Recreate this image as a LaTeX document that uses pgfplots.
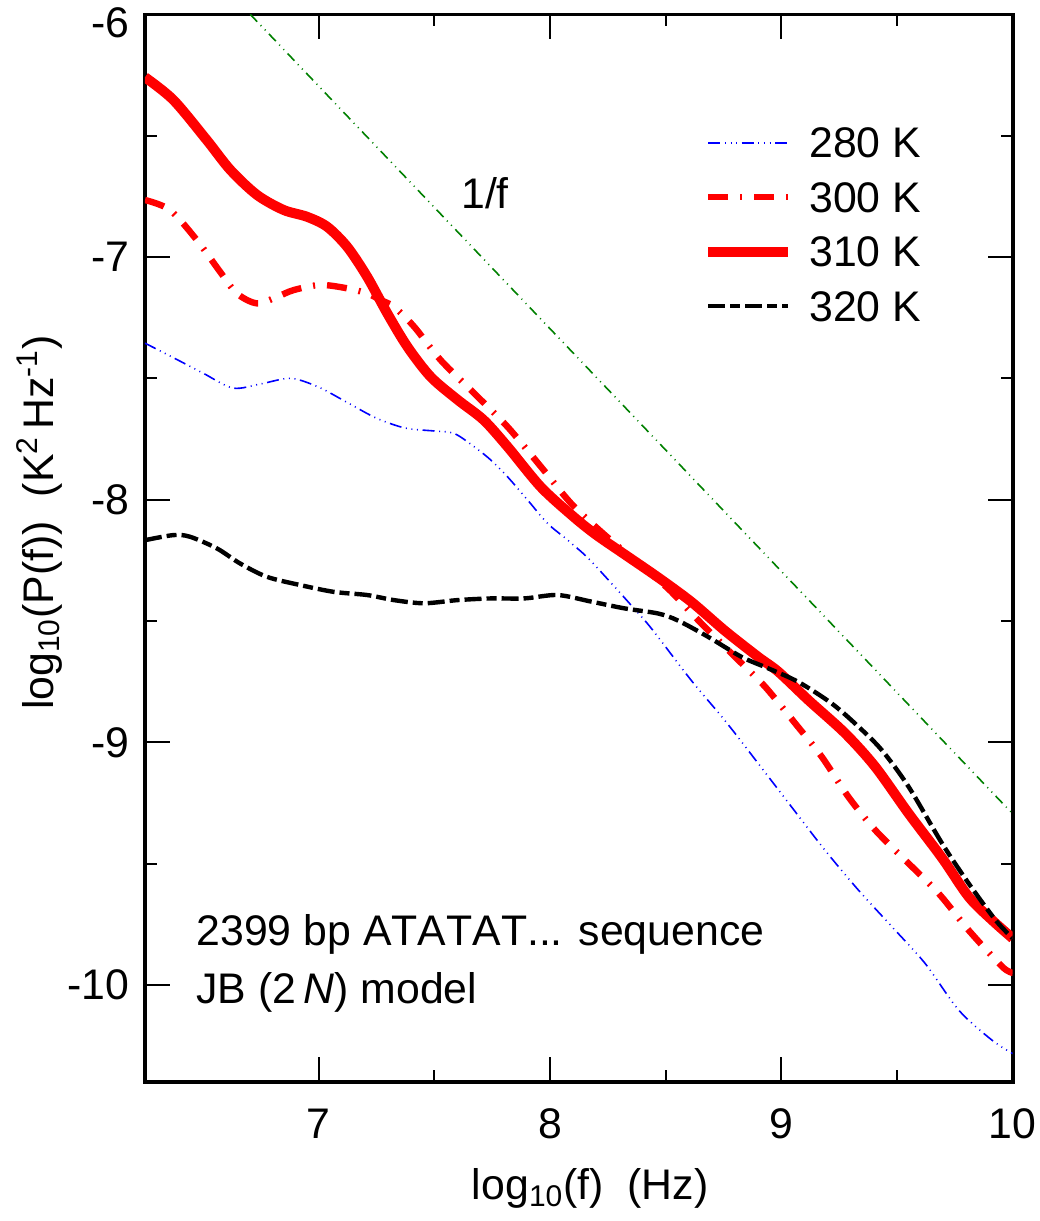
\documentclass[border=0pt]{standalone}
\usepackage{pgfplots}
\pgfplotsset{compat=1.18}
\usepackage{fontspec}
\setmainfont{Liberation Sans}[Kerning=Off]
\definecolor{dgreen}{RGB}{0,128,0}

\begin{document}
\fontsize{21.4pt}{25pt}\selectfont
\begin{tikzpicture}
\begin{axis}[
  scale only axis, width=433.85pt, height=533.8pt,
  xmin=6.25, xmax=10, ymin=-10.4, ymax=-6,
  xtick={7,8,9,10}, ytick={-10,-9,-8,-7,-6},
  yticklabels={-10,-9,-8,-7,\raisebox{-4pt}[\height][0pt]{-6}},
  minor tick num=1,
  tick align=inside,
  major tick length=12.5pt, minor tick length=6pt,
  every tick/.style={black, line width=1pt},
  axis line style={line width=1.8pt},
  /pgf/number format/assume math mode=true,
  xticklabel style={yshift=-6pt},
  yticklabel style={xshift=-0.5pt},
  xlabel={log\textsubscript{10}(f)\ \ (Hz)},
  ylabel={log\textsubscript{10}(P(f))\ \ (K\textsuperscript{2}\,Hz\textsuperscript{-1})},
  xlabel style={at={(axis description cs:0.513,-0.1105)}, anchor=base},
  ylabel style={at={(axis description cs:-0.106,0.524)}, anchor=base},
  legend style={draw=none, fill=none, at={(rel axis cs:0.643,0.8942)}, anchor=north west,
    inner sep=0pt, row sep=12.25pt, column sep=8pt,
    nodes={inner sep=0pt, text height=15pt, text depth=0pt}},
  legend cell align=left,
  legend image code/.code={\draw[#1] (0pt,0pt) -- (40pt,0pt);},
]
% 1/f reference line
\addplot[dgreen, line width=0.8pt, dash pattern=on 5pt off 2.5pt on 0.5pt off 2.5pt on 0.5pt off 2.5pt, forget plot]
  coordinates {(6.705,-6) (10,-9.295)};

% 280 K
\addplot[blue, line width=0.8pt, smooth, dash pattern=on 6pt off 2.3pt on 0.5pt off 2.3pt on 0.5pt off 2.3pt on 0.5pt off 2.3pt]
  coordinates {
  (6.25,-7.355) (6.375,-7.416) (6.5,-7.478) (6.63,-7.54) (6.75,-7.523) (6.88,-7.50)
  (7.0,-7.536) (7.125,-7.60) (7.25,-7.664) (7.375,-7.705) (7.5,-7.717) (7.586,-7.727)
  (7.673,-7.782) (7.745,-7.837) (7.817,-7.906) (7.904,-8.002) (7.99,-8.098) (8.077,-8.167)
  (8.164,-8.240) (8.265,-8.344) (8.351,-8.435) (8.438,-8.530) (8.611,-8.745) (8.756,-8.91)
  (8.9,-9.087) (9.044,-9.266) (9.189,-9.445) (9.334,-9.61) (9.478,-9.76) (9.622,-9.912)
  (9.767,-10.104) (9.911,-10.228) (10,-10.283)};
\addlegendentry{280 K}

% 300 K
\addplot[red, line width=3.2pt, smooth, dash pattern=on 10pt off 6pt on 1pt off 6pt]
  coordinates {
  (6.25,-6.765) (6.358,-6.806) (6.474,-6.93) (6.574,-7.06) (6.647,-7.15) (6.734,-7.191)
  (6.821,-7.164) (6.893,-7.136) (7.008,-7.115) (7.124,-7.129) (7.21,-7.15) (7.268,-7.177)
  (7.326,-7.205) (7.413,-7.287) (7.528,-7.425) (7.673,-7.562) (7.817,-7.70) (7.961,-7.864)
  (8.091,-8.015) (8.221,-8.132) (8.373,-8.256) (8.51,-8.366) (8.64,-8.496) (8.814,-8.661)
  (8.93,-8.771) (9.06,-8.922) (9.175,-9.06) (9.29,-9.225) (9.406,-9.362) (9.536,-9.486)
  (9.68,-9.623) (9.81,-9.775) (9.955,-9.925) (10,-9.95)};
\addlegendentry{300 K}

% 310 K
\addplot[red, line width=5pt, smooth]
  coordinates {
  (6.25,-6.259) (6.373,-6.353) (6.517,-6.518) (6.619,-6.641) (6.734,-6.744) (6.849,-6.806)
  (6.95,-6.834) (7.037,-6.875) (7.124,-6.958) (7.21,-7.081) (7.297,-7.232) (7.385,-7.371)
  (7.485,-7.494) (7.602,-7.589) (7.714,-7.672) (7.818,-7.783) (7.961,-7.948) (8.104,-8.072)
  (8.2,-8.145) (8.322,-8.225) (8.467,-8.320) (8.611,-8.421) (8.756,-8.54) (8.9,-8.648)
  (8.987,-8.709) (9.117,-8.826) (9.276,-8.963) (9.406,-9.101) (9.55,-9.293) (9.695,-9.477)
  (9.81,-9.637) (9.911,-9.733) (10,-9.808)};
\addlegendentry{310 K}

% 320 K
\addplot[black, line width=2.2pt, smooth, dash pattern=on 8.5pt off 2.5pt on 5pt off 2.5pt]
  coordinates {
  (6.25,-8.167) (6.373,-8.146) (6.445,-8.153) (6.561,-8.201) (6.661,-8.263) (6.777,-8.318)
  (6.921,-8.352) (7.066,-8.38) (7.21,-8.393) (7.326,-8.414) (7.456,-8.427) (7.6,-8.414)
  (7.745,-8.407) (7.889,-8.407) (8.033,-8.393) (8.178,-8.420) (8.322,-8.448) (8.467,-8.469)
  (8.553,-8.498) (8.683,-8.565) (8.828,-8.648) (8.943,-8.695) (9.073,-8.751) (9.218,-8.84)
  (9.334,-8.936) (9.434,-9.032) (9.55,-9.183) (9.695,-9.417) (9.81,-9.582) (9.926,-9.733)
  (10,-9.808)};
\addlegendentry{320 K}

\node[anchor=base west, inner sep=0pt] at (axis cs:7.615,-6.798) {1/f};
\node[anchor=base west, inner sep=0pt] at (axis cs:6.471,-9.836) {2399 bp ATATAT... sequence};
\node[anchor=base west, inner sep=0pt] at (axis cs:6.471,-10.075) {JB (2\,\textit{N}) model};
\end{axis}
\pgfresetboundingbox
\path[use as bounding box] (-72.5pt,-69.5pt) rectangle (447pt,541pt);
\end{tikzpicture}
\end{document}
